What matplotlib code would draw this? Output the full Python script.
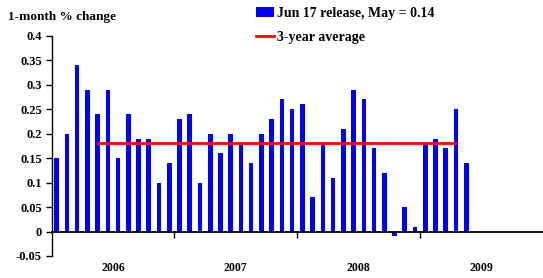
import matplotlib
matplotlib.use("Agg")
import matplotlib.pyplot as plt
from matplotlib.patches import Patch
from matplotlib.lines import Line2D
import numpy as np

# Monthly values Jan 2006 .. May 2009
values = [0.15, 0.20, 0.34, 0.29, 0.24, 0.29, 0.15, 0.24, 0.19, 0.19, 0.10, 0.14,
          0.23, 0.24, 0.10, 0.20, 0.16, 0.20, 0.18, 0.14, 0.20, 0.23, 0.27, 0.25,
          0.26, 0.07, 0.18, 0.11, 0.21, 0.29, 0.27, 0.17, 0.12, -0.01, 0.05, 0.01,
          0.18, 0.19, 0.17, 0.25, 0.14]
avg_value = 0.18
avg_start, avg_end = 4, 39
years = ["2006", "2007", "2008", "2009"]
yticks = [-0.05, 0, 0.05, 0.1, 0.15, 0.2, 0.25, 0.3, 0.35, 0.4]
ytick_labels = ["-0.05", "0", "0.05", "0.1", "0.15", "0.2", "0.25", "0.3", "0.35", "0.4"]

plt.rcParams['font.family'] = ['Liberation Serif', 'DejaVu Serif']
plt.rcParams['font.weight'] = 'bold'

fig = plt.figure(figsize=(5.43, 2.78), dpi=100)
ax = fig.add_axes([51.5 / 543, 1 - 256 / 278, (543 - 51.5) / 543, (256 - 35.7) / 278])

x = np.arange(len(values))
ax.bar(x, values, width=0.45, color='#0000ff', zorder=2)
ax.plot([avg_start, avg_end], [avg_value, avg_value], color='#ff0000', lw=2, zorder=3)

ax.set_xlim(-0.5, 47.5)
ax.set_ylim(-0.05, 0.4)
ax.set_yticks(yticks)
ax.set_yticklabels(ytick_labels, fontsize=9, fontweight='bold')
ax.tick_params(axis='y', direction='out', length=4, width=1, pad=3)

ax.spines['top'].set_visible(False)
ax.spines['right'].set_visible(False)
ax.spines['bottom'].set_position(('data', 0))
ax.spines['bottom'].set_linewidth(1.3)
ax.spines['left'].set_linewidth(1.0)
ax.set_xticks([11.5, 23.5, 35.5])
ax.set_xticklabels([])
ax.tick_params(axis='x', direction='out', length=4, width=1)

for i, yr in enumerate(years):
    ax.text(i * 12 + 5.5, -0.075, yr, ha='center', va='center', fontsize=8.5,
            fontweight='bold', transform=ax.transData, clip_on=False)

fig.text(8 / 543, 1 - 17 / 278, "1-month % change", ha='left', va='center',
         fontsize=9.5, fontweight='bold')

handles = [Patch(facecolor='#0000ff', edgecolor='none'),
           Line2D([0], [0], color='#ff0000', lw=2)]
labels = ["Jun 17 release, May = 0.14", "3-year average"]
fig.legend(handles, labels, loc='upper left', bbox_to_anchor=(253 / 543, 1 - 4 / 278),
           frameon=False, handlelength=1.3, handleheight=0.65,
           handletextpad=0.25, labelspacing=0.8, borderaxespad=0, borderpad=0.2,
           prop={'weight': 'bold', 'size': 10})

fig.savefig("out.png", dpi=100)
